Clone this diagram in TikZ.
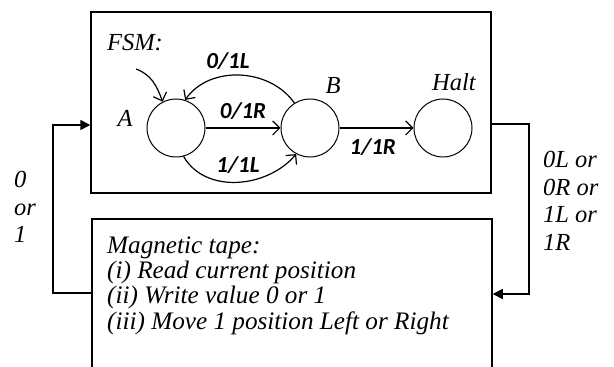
\documentclass[tikz,border=0pt]{standalone}
\usepackage{fontspec}
\setmainfont{Liberation Serif}
\newfontfamily\lblfont{Carlito}
\usetikzlibrary{arrows.meta}
\begin{document}
\begin{tikzpicture}[x=1pt,y=1pt,
  txt/.style={font=\fontsize{24.5}{25.5}\selectfont\itshape, inner sep=0pt},
  tapetxt/.style={font=\fontsize{25.2}{25.4}\selectfont\itshape, inner sep=0pt},
  sidetxt/.style={font=\fontsize{24.5}{27.5}\selectfont\itshape, inner sep=0pt},
  elbl/.style={font=\fontsize{23}{25}\selectfont\lblfont\bfseries\itshape, inner sep=0pt},
  box/.style={draw, line width=1.5pt, rectangle, inner sep=0pt},
  state/.style={draw, circle, line width=1pt, minimum size=58pt, inner sep=0pt},
  edge/.style={line width=1.2pt, -{Straight Barb[length=7pt,width=14pt,line width=1.2pt]}},
  conn/.style={line width=1.5pt, -{Triangle[length=10pt,width=10pt]}}
]
\useasboundingbox (0,0) rectangle (614,367);
\clip (0,0) rectangle (614,367);
% boxes
\node[box, minimum width=400pt, minimum height=181pt] (fsm) at (291,264.5) {};
\node[box, minimum width=400pt, minimum height=200pt] (tape) at (292,48) {};
% states
\node[state] (A) at (176,239) {};
\node[state] (B) at (310,239) {};
\node[state] (H) at (443,239) {};
% labels
\node[txt] (fsml) at (135,324) {FSM:};
\node[txt] (al) at (125,249) {A};
\node[txt] (bl) at (333,281) {B};
\node[txt] (hl) at (454,285) {Halt};
% initial arrow
\coordinate (init) at (136,298);
\draw[edge] (init) to[out=-20, in=110] (A.117);
% transitions
\draw[edge] (A) -- (B) node[elbl, pos=0.5, above=8pt] (l1) {0/1R};
\draw[edge] (B) -- (H) node[elbl, pos=0.45, below=10pt] (l2) {1/1R};
\draw[edge] (B.122) to[out=125, in=55] (A.72);
\draw[edge] (A.-75) to[out=-60, in=-130] (B.-118);
\node[elbl] (l3) at (228,306) {0/1L};
\node[elbl] (l4) at (238,202) {1/1L};
% tape text
\node[tapetxt, align=left, anchor=west] (tt) at (107,81.5) {Magnetic tape:\\(i) Read current position\\(ii) Write value 0 or 1\\(iii) Move 1 position Left or Right};
% right connector
\coordinate (rc) at (529,243);
\coordinate (rd) at (529,73);
\draw[conn] (fsm.east |- rc) -- (rc) -- (rd) -- (rd -| tape.east);
\node[sidetxt, align=left, anchor=west] (rl) at (543,166) {0L or\\0R or\\1L or\\1R};
% left connector
\coordinate (lc) at (53,74);
\coordinate (lu) at (53,242);
\draw[conn] (tape.west |- lc) -- (lc) -- (lu) -- (lu -| fsm.west);
\node[sidetxt, align=left, anchor=west] (ll) at (14,160) {0\\or\\1};
\end{tikzpicture}
\end{document}
